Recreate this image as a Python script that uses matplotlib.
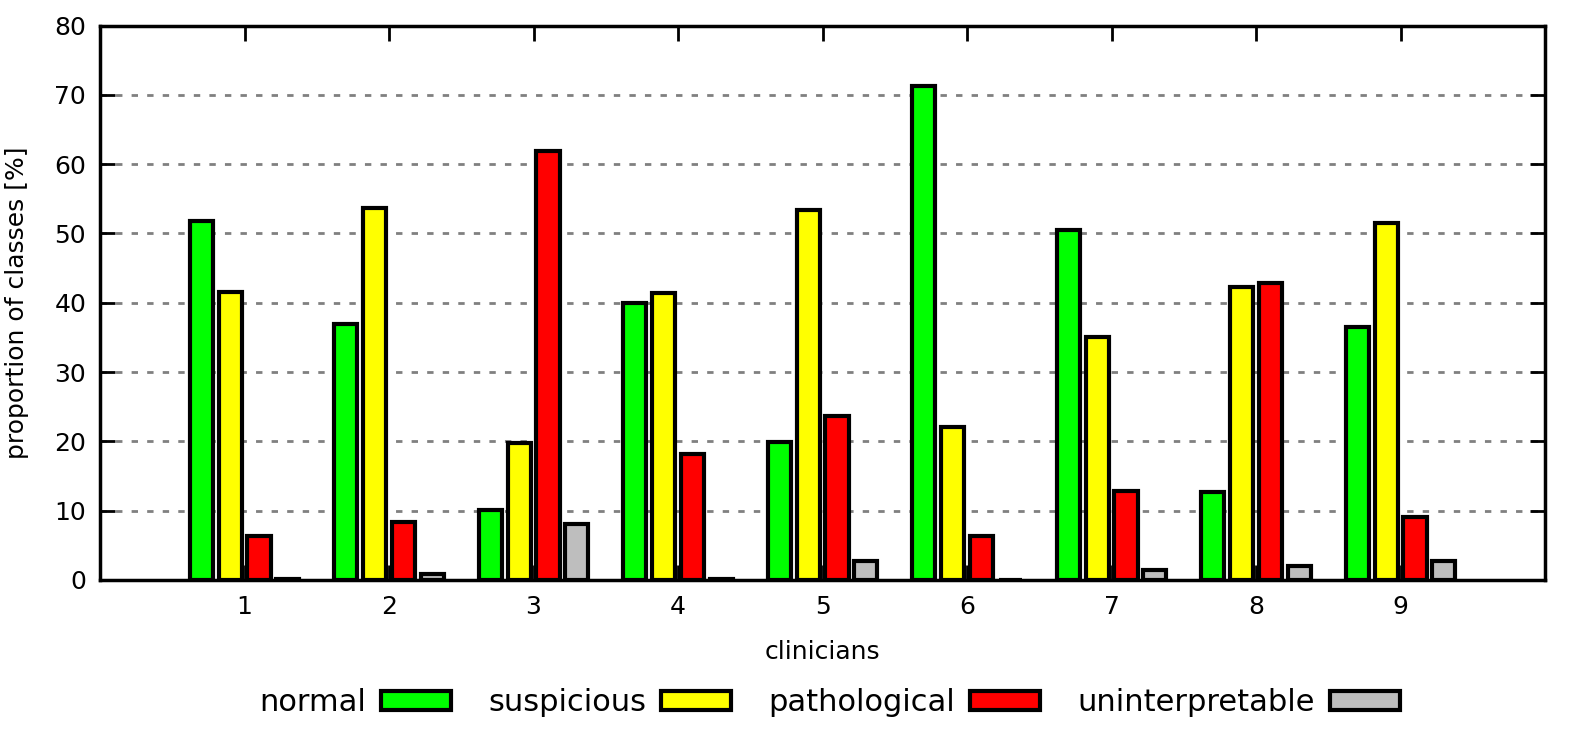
import numpy as np
import matplotlib
matplotlib.use("Agg")
import matplotlib.pyplot as plt

clinicians = [1, 2, 3, 4, 5, 6, 7, 8, 9]

normal = [51.8, 36.9, 10.1, 40.0, 19.9, 71.3, 50.5, 12.7, 36.5]
suspicious = [41.6, 53.7, 19.7, 41.4, 53.4, 22.1, 35.1, 42.3, 51.5]
pathological = [6.3, 8.4, 61.9, 18.2, 23.7, 6.3, 12.8, 42.9, 9.1]
uninterpretable = [0.2, 0.9, 8.1, 0.2, 2.7, 0.0, 1.4, 2.0, 2.7]

series = [
    ("normal", normal, "#00ff00"),
    ("suspicious", suspicious, "#ffff00"),
    ("pathological", pathological, "#ff0000"),
    ("uninterpretable", uninterpretable, "#bebebe"),
]

plt.rcParams["font.family"] = ["DejaVu Sans"]

fig = plt.figure(
    figsize=(15.83, 7.29),
    dpi=100
)

ax = fig.add_axes([0.0632, 0.2044, 0.9128, 0.7605])

x = np.array(clinicians, dtype=float)
offsets = [-0.3, -0.1, 0.1, 0.3]
width = 0.16

for (name, values, color), off in zip(series, offsets):

    ax.bar(
        x + off,
        values,
        width,
        color=color,
        edgecolor="black",
        linewidth=3,
        label=name,
        zorder=2
    )

ax.set_xlim(0, 10)
ax.set_ylim(0, 80)
ax.set_xticks(clinicians)
ax.set_yticks(range(0, 81, 10))

ax.set_axisbelow(True)
ax.yaxis.grid(
    True,
    color="#808080",
    linewidth=2,
    linestyle=(0, (2.3, 3.3))
)

for side in ["top", "bottom", "left", "right"]:
    ax.spines[side].set_linewidth(2.5)
    ax.spines[side].set_zorder(3)

ax.tick_params(
    direction="in",
    length=11,
    width=2,
    labelsize=18,
    top=True,
    right=True
)
ax.tick_params(axis="x", pad=11)
ax.tick_params(axis="y", pad=10)

ax.set_xlabel("clinicians", fontsize=18)
ax.set_ylabel("proportion of classes [%]", fontsize=18)
ax.xaxis.set_label_coords(0.5, -0.108)
ax.yaxis.set_label_coords(-0.049, 0.5)

fig.legend(
    loc="center",
    bbox_to_anchor=(0.524, 0.036),
    ncol=4,
    frameon=False,
    fontsize=22,
    markerfirst=False,
    handlelength=2.3,
    handleheight=0.6,
    handletextpad=0.5,
    columnspacing=1.2
)

fig.savefig("out.png", dpi=100)
plt.close(fig)
